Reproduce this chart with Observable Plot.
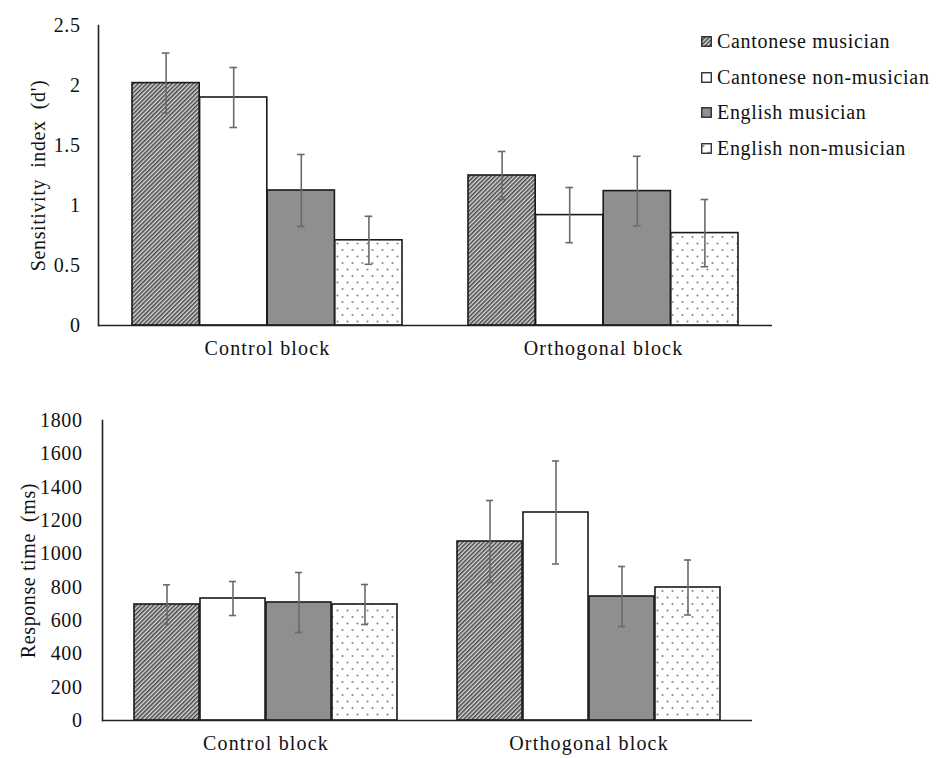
<!DOCTYPE html>
<html>
<head>
<meta charset="utf-8">
<script src="https://cdn.jsdelivr.net/npm/d3@7"></script>
<script src="https://cdn.jsdelivr.net/npm/@observablehq/plot@0.6"></script>
<style>
  body { margin: 0; background: #fff; font-family: "Liberation Serif", "DejaVu Serif", serif; }
  #wrap { position: relative; width: 937px; height: 758px; overflow: hidden; }
  #top { position: absolute; left: 0; top: 0; }
  #bottom { position: absolute; left: 0; top: 380px; }
  #legend { position: absolute; left: 701px; top: 24px; font-family: "Liberation Serif", "DejaVu Serif", serif; font-size: 20px; color: #111; letter-spacing: 0.7px; }
  #legend div { display: flex; align-items: center; height: 35.5px; }
  #legend svg { margin-right: 5px; }
</style>
</head>
<body>
<svg width="0" height="0" style="position:absolute">
  <defs>
    <pattern id="hatch" patternUnits="userSpaceOnUse" width="3" height="3" patternTransform="rotate(45)">
      <rect width="3" height="3" fill="#dcdcdc"></rect>
      <line x1="0.8" y1="0" x2="0.8" y2="3" stroke="#4a4a4a" stroke-width="1.6"></line>
    </pattern>
    <pattern id="dots" patternUnits="userSpaceOnUse" width="10" height="13">
      <rect width="10" height="13" fill="#ffffff"></rect>
      <circle cx="2.5" cy="3" r="1.1" fill="#8a8a8a"></circle>
      <circle cx="7.5" cy="9.5" r="1.1" fill="#8a8a8a"></circle>
    </pattern>
  </defs>
</svg>
<div id="wrap">
  <div id="top"></div>
  <div id="legend"></div>
  <div id="bottom"></div>
</div>
<script>
// ---- data ----
const blocks = ["Control block", "Orthogonal block"];
const groups = ["Cantonese musician", "Cantonese non-musician", "English musician", "English non-musician"];

// Sensitivity index (d')
const dprimeControl = [2.02, 1.90, 1.125, 0.71];
const dprimeControlErr = [0.25, 0.25, 0.30, 0.20];
const dprimeOrtho = [1.25, 0.92, 1.12, 0.77];
const dprimeOrthoErr = [0.20, 0.23, 0.29, 0.28];

// Response time (ms)
const rtControl = [696, 732, 708, 696];
const rtControlErr = [118, 102, 180, 120];
const rtOrtho = [1074, 1248, 744, 798];
const rtOrthoErr = [246, 309, 180, 165];

const dprimeTicks = [0, 0.5, 1, 1.5, 2, 2.5];
const rtTicks = [0, 200, 400, 600, 800, 1000, 1200, 1400, 1600, 1800];

// ---- styles ----
const fills = ["url(#hatch)", "#ffffff", "#8f8f8f", "url(#dots)"];
const FONT = "'Liberation Serif', 'DejaVu Serif', serif";

function table(ctrl, ctrlErr, orth, orthErr) {
  const rows = [];
  groups.forEach((g, i) => {
    rows.push({block: blocks[0], group: g, gi: i, value: ctrl[i], err: ctrlErr[i]});
    rows.push({block: blocks[1], group: g, gi: i, value: orth[i], err: orthErr[i]});
  });
  return rows;
}

function chart({data, ticks, domain, label, height, marginTop, marginBottom, marginLeft, marginRight, paddingInner, paddingOuter, tickPadding, labelOffset}) {
  const width = 937;
  const L = width - marginLeft - marginRight;
  const step = L / (blocks.length - paddingInner + 2 * paddingOuter);
  const bw = step * (1 - paddingInner);
  const w = bw / groups.length;
  const marks = [];
  groups.forEach((g, i) => {
    const sub = data.filter(d => d.gi === i);
    marks.push(Plot.barY(sub, {
      x: "block", y: "value", fill: fills[i], stroke: "#1a1a1a", strokeWidth: 1.6,
      insetLeft: i * w, insetRight: (groups.length - 1 - i) * w
    }));
  });
  groups.forEach((g, i) => {
    const sub = data.filter(d => d.gi === i);
    const dx = (i - (groups.length - 1) / 2) * w;
    const capL = i * w + w / 2 - 4, capR = (groups.length - 1 - i) * w + w / 2 - 4;
    marks.push(Plot.ruleX(sub, {x: "block", y1: d => d.value - d.err, y2: d => d.value + d.err, dx, stroke: "#6a6a6a", strokeWidth: 1.6}));
    marks.push(Plot.tickY(sub, {x: "block", y: d => d.value + d.err, insetLeft: capL, insetRight: capR, stroke: "#6a6a6a", strokeWidth: 1.6}));
    marks.push(Plot.tickY(sub, {x: "block", y: d => d.value - d.err, insetLeft: capL, insetRight: capR, stroke: "#6a6a6a", strokeWidth: 1.6}));
  });
  marks.push(Plot.ruleY([0], {stroke: "#222", strokeWidth: 1.6}));
  marks.push(Plot.frame({anchor: "left", stroke: "#222", strokeWidth: 1.6}));
  const svg = Plot.plot({
    width, height, marginTop, marginBottom, marginLeft, marginRight,
    style: {fontFamily: FONT, fontSize: "20px", color: "#111", background: "#fff", letterSpacing: "0.6px", overflow: "visible"},
    x: {domain: blocks, paddingInner, paddingOuter, tickSize: 0, tickPadding: 15, label: null},
    y: {domain, ticks, tickSize: 0, tickPadding, label, labelAnchor: "center", labelOffset, labelArrow: "none", tickFormat: d => String(d)},
    marks
  });
  svg.setAttribute("font-family", FONT);
  svg.querySelectorAll("text").forEach(t => t.setAttribute("font-family", FONT));
  svg.querySelectorAll("[aria-label='x-axis tick label'] text").forEach(t => t.setAttribute("letter-spacing", "1.2px"));
  return svg;
}

document.getElementById("top").appendChild(chart({
  data: table(dprimeControl, dprimeControlErr, dprimeOrtho, dprimeOrthoErr),
  ticks: dprimeTicks, domain: [0, 2.5], label: "Sensitivity  index  (d')",
  height: 370, marginTop: 25, marginBottom: 45, marginLeft: 98, marginRight: 165,
  paddingInner: 0.196, paddingOuter: 0.1, tickPadding: 18, labelOffset: 68
}));

document.getElementById("bottom").appendChild(chart({
  data: table(rtControl, rtControlErr, rtOrtho, rtOrthoErr),
  ticks: rtTicks, domain: [0, 1800], label: "Response time  (ms)",
  height: 378, marginTop: 40, marginBottom: 38, marginLeft: 102, marginRight: 185,
  paddingInner: 0.185, paddingOuter: 0.096, tickPadding: 20, labelOffset: 82
}));

// legend
const legend = document.getElementById("legend");
groups.forEach((g, i) => {
  const row = document.createElement("div");
  row.innerHTML = `<svg width="11" height="11"><rect x="0.75" y="0.75" width="9.5" height="9.5" fill="${fills[i]}" stroke="#222" stroke-width="1.3"></rect></svg><span>${g}</span>`;
  legend.appendChild(row);
});
</script>
</body>
</html>
